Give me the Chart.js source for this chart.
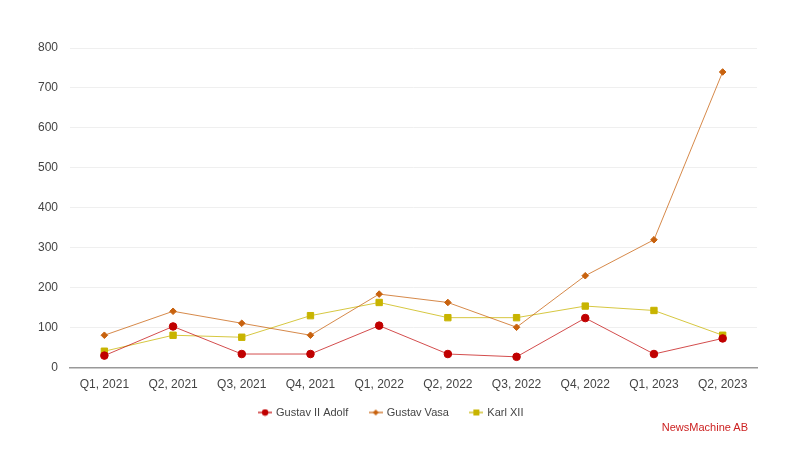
<!DOCTYPE html>
<html>
<head>
<meta charset="utf-8">
<script src="https://cdn.jsdelivr.net/npm/chart.js@4/dist/chart.umd.min.js"></script>
<style>
  html, body { margin: 0; padding: 0; background: #fff; }
  #wrap { width: 800px; height: 450px; position: relative; }
  #credit {
    position: absolute; right: 52px; top: 421px;
    font: 11px "Liberation Sans", Arial, sans-serif; color: #cc2222;
  }
</style>
</head>
<body>
<div id="wrap"><canvas id="myChart"></canvas><div id="credit">NewsMachine AB</div></div>
<script>
const labels = [
  'Q1, 2021', 'Q2, 2021', 'Q3, 2021', 'Q4, 2021', 'Q1, 2022',
  'Q2, 2022', 'Q3, 2022', 'Q4, 2022', 'Q1, 2023', 'Q2, 2023',
];

const gustavAdolf = [30, 103, 34, 34, 105, 34, 27, 124, 34, 73];
const gustavVasa = [81, 141, 111, 81, 184, 163, 101, 230, 320, 740];
const karlXII = [41, 81, 76, 130, 163, 125, 125, 154, 143, 81];

const yTicks = [0, 100, 200, 300, 400, 500, 600, 700, 800];

const red = '#c00000';
const orange = '#c8620e';
const olive = '#c8b400';

const SHRINK = 17; // x axis labels hang this far into the legend's top padding

// small legend icon: line with marker through it
function legendIcon(color, style) {
  const c = document.createElement('canvas');
  c.width = 14; c.height = 8;
  const ctx = c.getContext('2d');
  ctx.strokeStyle = color;
  ctx.lineWidth = 1.2;
  ctx.beginPath();
  ctx.moveTo(0, 4); ctx.lineTo(14, 4);
  ctx.stroke();
  ctx.fillStyle = color;
  ctx.beginPath();
  if (style === 'circle') {
    ctx.arc(7, 4, 3.2, 0, Math.PI * 2);
  } else if (style === 'rectRot') {
    ctx.moveTo(7, 1); ctx.lineTo(10, 4); ctx.lineTo(7, 7); ctx.lineTo(4, 4);
  } else {
    ctx.rect(4, 1, 6, 6);
  }
  ctx.fill();
  return c;
}

const chart = document.querySelector('#myChart');

const chartData = {
  labels: labels,
  datasets: [
    {
      label: 'Gustav II Adolf',
      data: gustavAdolf,
      borderColor: 'rgba(192, 0, 0, 0.7)',
      backgroundColor: red,
      pointBackgroundColor: red,
      pointBorderColor: red,
      pointStyle: 'circle',
      pointRadius: 3.8,
      borderWidth: 1,
    },
    {
      label: 'Gustav Vasa',
      data: gustavVasa,
      borderColor: 'rgba(200, 98, 14, 0.75)',
      backgroundColor: orange,
      pointBackgroundColor: orange,
      pointBorderColor: orange,
      pointStyle: 'rectRot',
      pointRadius: 3.3,
      borderWidth: 1,
    },
    {
      label: 'Karl XII',
      data: karlXII,
      borderColor: 'rgba(200, 180, 0, 0.75)',
      backgroundColor: olive,
      pointBackgroundColor: olive,
      pointBorderColor: olive,
      pointStyle: 'rect',
      pointRadius: 4.5,
      borderWidth: 1,
    },
  ],
};

const icons = [
  legendIcon(red, 'circle'),
  legendIcon(orange, 'rectRot'),
  legendIcon(olive, 'rect'),
];

// undo the shrink after layout so the labels are not clipped
const unclipLabels = {
  id: 'unclipLabels',
  afterLayout(ch) { ch.scales.x.bottom += SHRINK; },
};

Chart.defaults.font.family = '"Liberation Sans", Arial, sans-serif';
Chart.defaults.font.size = 12;
Chart.defaults.color = '#444';

const config = {
  type: 'line',
  data: chartData,
  plugins: [unclipLabels],
  options: {
    responsive: true,
    maintainAspectRatio: false,
    animation: false,
    layout: { padding: { top: 48, left: 26, right: 43, bottom: 22 } },
    scales: {
      x: {
        offset: true,
        grid: { display: false, drawTicks: false },
        border: { color: '#999', width: 1.5 },
        ticks: { padding: 10, color: '#444', maxRotation: 0 },
        afterFit: (axis) => { axis.height -= SHRINK; },
      },
      y: {
        min: 0,
        max: 800,
        afterBuildTicks: (axis) => { axis.ticks = yTicks.map(v => ({ value: v })); },
        grid: { color: '#efefef', drawTicks: false },
        border: { display: false },
        ticks: { padding: 12, color: '#444' },
      },
    },
    plugins: {
      legend: {
        position: 'bottom',
        labels: {
          usePointStyle: true,
          padding: 22,
          color: '#444',
          font: { size: 11 },
          generateLabels: (ch) => {
            const items = Chart.defaults.plugins.legend.labels.generateLabels(ch);
            items.forEach((it, i) => { it.pointStyle = icons[i]; });
            return items;
          },
        },
      },
      tooltip: { enabled: false },
    },
  },
};

const myChart = new Chart(chart, config);
</script>
</body>
</html>
